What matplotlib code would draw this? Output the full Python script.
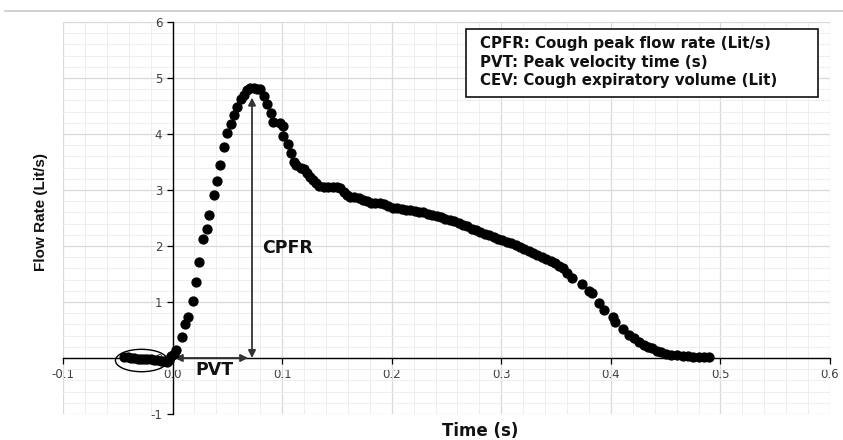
import matplotlib
matplotlib.use("Agg")
import matplotlib.pyplot as plt
from matplotlib.patches import Ellipse, Rectangle
from matplotlib.ticker import MultipleLocator, FixedLocator, FuncFormatter

# ---------------- data ----------------
time_s = [
    -0.044, -0.041, -0.038, -0.035, -0.032, -0.029, -0.026, -0.023, -0.020, -0.017,
    -0.014, -0.011, -0.008, -0.005, -0.003, -0.001, 0.001, 0.0035, 0.009, 0.011,
    0.0145, 0.0185, 0.021, 0.024, 0.0276, 0.031, 0.0335, 0.0377, 0.0404, 0.0435,
    0.0472, 0.0493, 0.0536, 0.0559, 0.0584, 0.062, 0.0648, 0.0678, 0.0705, 0.0739,
    0.0769, 0.080, 0.083, 0.0864, 0.0894, 0.0915, 0.0983, 0.1006, 0.1010, 0.105,
    0.108, 0.111, 0.113, 0.117, 0.120, 0.123, 0.125, 0.128, 0.131, 0.134,
    0.138, 0.142, 0.146, 0.150, 0.153, 0.156, 0.159, 0.162, 0.166, 0.170,
    0.174, 0.177, 0.181, 0.185, 0.189, 0.193, 0.197, 0.201, 0.205, 0.209,
    0.213, 0.217, 0.221, 0.225, 0.229, 0.233, 0.237, 0.241, 0.245, 0.249,
    0.253, 0.257, 0.261, 0.265, 0.269, 0.273, 0.277, 0.281, 0.285, 0.289,
    0.293, 0.297, 0.301, 0.305, 0.309, 0.313, 0.317, 0.321, 0.325, 0.329,
    0.333, 0.337, 0.341, 0.345, 0.349, 0.353, 0.356, 0.360, 0.3647, 0.3735,
    0.3805, 0.383, 0.3896, 0.394, 0.4017, 0.404, 0.411, 0.417, 0.421, 0.426,
    0.430, 0.434, 0.438, 0.442, 0.446, 0.4505, 0.455, 0.460, 0.4656, 0.470,
    0.475, 0.480, 0.485, 0.490,
]
flow_rate = [
    0.01, 0.01, 0.00, 0.00, -0.01, -0.01, -0.02, -0.02, -0.02, -0.03,
    -0.04, -0.05, -0.06, -0.07, -0.03, 0.03, 0.08, 0.15, 0.38, 0.60,
    0.73, 1.02, 1.36, 1.72, 2.12, 2.30, 2.56, 2.91, 3.16, 3.45,
    3.77, 4.01, 4.18, 4.34, 4.49, 4.62, 4.70, 4.79, 4.82, 4.82,
    4.81, 4.80, 4.68, 4.54, 4.38, 4.22, 4.20, 4.14, 3.96, 3.83,
    3.66, 3.50, 3.45, 3.40, 3.37, 3.30, 3.24, 3.18, 3.12, 3.08,
    3.06, 3.06, 3.06, 3.06, 3.04, 2.96, 2.91, 2.88, 2.87, 2.86,
    2.83, 2.80, 2.77, 2.77, 2.76, 2.75, 2.72, 2.68, 2.67, 2.66,
    2.65, 2.64, 2.63, 2.61, 2.60, 2.58, 2.56, 2.53, 2.51, 2.48,
    2.46, 2.44, 2.41, 2.38, 2.35, 2.31, 2.28, 2.25, 2.22, 2.19,
    2.16, 2.13, 2.11, 2.08, 2.05, 2.02, 1.99, 1.95, 1.91, 1.87,
    1.84, 1.81, 1.77, 1.73, 1.69, 1.65, 1.60, 1.52, 1.43, 1.32,
    1.20, 1.155, 0.99, 0.86, 0.73, 0.65, 0.52, 0.41, 0.35, 0.29,
    0.24, 0.20, 0.17, 0.13, 0.10, 0.08, 0.06, 0.045, 0.036, 0.03,
    0.025, 0.02, 0.02, 0.02,
]

x_ticks = [-0.1, 0.0, 0.1, 0.2, 0.3, 0.4, 0.5, 0.6]
y_ticks = [-1, 0, 1, 2, 3, 4, 5, 6]

cpfr_time = 0.0725      # time of peak flow (arrow position)
cpfr_arrow_top = 4.65
legend_lines = [
    "CPFR: Cough peak flow rate (Lit/s)",
    "PVT: Peak velocity time (s)",
    "CEV: Cough expiratory volume (Lit)",
]

# ---------------- figure ----------------
W, H = 843, 440
fig = plt.figure(figsize=(W / 100, H / 100), dpi=100)
L, R, T, B = 63, 830, 22, 414
ax = fig.add_axes([L / W, 1 - B / H, (R - L) / W, (B - T) / H])

ax.set_xlim(-0.1, 0.6)
ax.set_ylim(-1, 6)

ax.xaxis.set_major_locator(FixedLocator(x_ticks))
ax.yaxis.set_major_locator(FixedLocator(y_ticks))
ax.xaxis.set_minor_locator(MultipleLocator(0.02))
ax.yaxis.set_minor_locator(MultipleLocator(0.2))
ax.xaxis.set_major_formatter(FuncFormatter(lambda v, p: f"{v:.1f}"))
ax.yaxis.set_major_formatter(FuncFormatter(lambda v, p: f"{v:.0f}"))

ax.grid(which="major", color="#d9d9d9", lw=0.9)
ax.grid(which="minor", color="#eeeeee", lw=0.7)
ax.set_axisbelow(True)

for s in ("top", "right"):
    ax.spines[s].set_visible(False)
ax.spines["left"].set_position(("data", 0))
ax.spines["bottom"].set_position(("data", 0))
ax.spines["left"].set_color("#000000")
ax.spines["bottom"].set_color("#000000")
ax.spines["left"].set_linewidth(1.0)
ax.spines["bottom"].set_linewidth(1.0)

ax.tick_params(which="major", direction="out", length=4, width=0.9,
               labelsize=8.5, labelcolor="#404040", color="#000000")
ax.tick_params(which="minor", length=0)

# data
ax.plot(time_s, flow_rate, linestyle="none", marker="o", ms=6.4,
        color="black", zorder=5, clip_on=False)

# annotations: arrows
arrow_kw = dict(arrowstyle="<|-|>", color="#333333", lw=1.3,
                mutation_scale=11, shrinkA=0, shrinkB=0)
ax.annotate("", xy=(cpfr_time, cpfr_arrow_top), xytext=(cpfr_time, 0.0),
            arrowprops=arrow_kw, zorder=4)
ax.annotate("", xy=(0.069, 0.0), xytext=(0.002, 0.0),
            arrowprops=arrow_kw, zorder=4)

ax.text(0.0385, -0.21, "PVT", fontsize=12.5, fontweight="bold",
        ha="center", va="center", color="#111111", zorder=6)
ax.text(0.0815, 1.96, "CPFR", fontsize=12.5, fontweight="bold",
        ha="left", va="center", color="#111111", zorder=6)

# ellipse around baseline
ax.add_patch(Ellipse((-0.0283, -0.045), 0.0477, 0.40, fill=False,
                     edgecolor="black", lw=1.0, zorder=6))

# legend box
ax.add_patch(Rectangle((0.268, 4.655), 0.321, 1.215, facecolor="white",
                       edgecolor="#111111", lw=1.2, zorder=7))
for i, line in enumerate(legend_lines):
    ax.text(0.281, 5.62 - i * 0.335, line, fontsize=10.8, fontweight="bold",
            ha="left", va="center", color="#111111", zorder=8)

# axis titles
fig.text(480 / W, 1 - 431 / H, "Time (s)", fontsize=12, fontweight="bold",
         ha="center", va="center", color="#111111")
fig.text(41 / W, 1 - 212 / H, "Flow Rate (Lit/s)", rotation=90,
         fontsize=11, fontweight="bold",
         family=["Liberation Sans", "DejaVu Sans"],
         ha="center", va="center", color="#111111")

# thin frame line at top
fig.add_artist(plt.Line2D([5 / W, 1.0], [1 - 11 / H, 1 - 11 / H],
                          color="#c8c8c8", lw=1.2, transform=fig.transFigure))

fig.savefig("out.png", dpi=100)
